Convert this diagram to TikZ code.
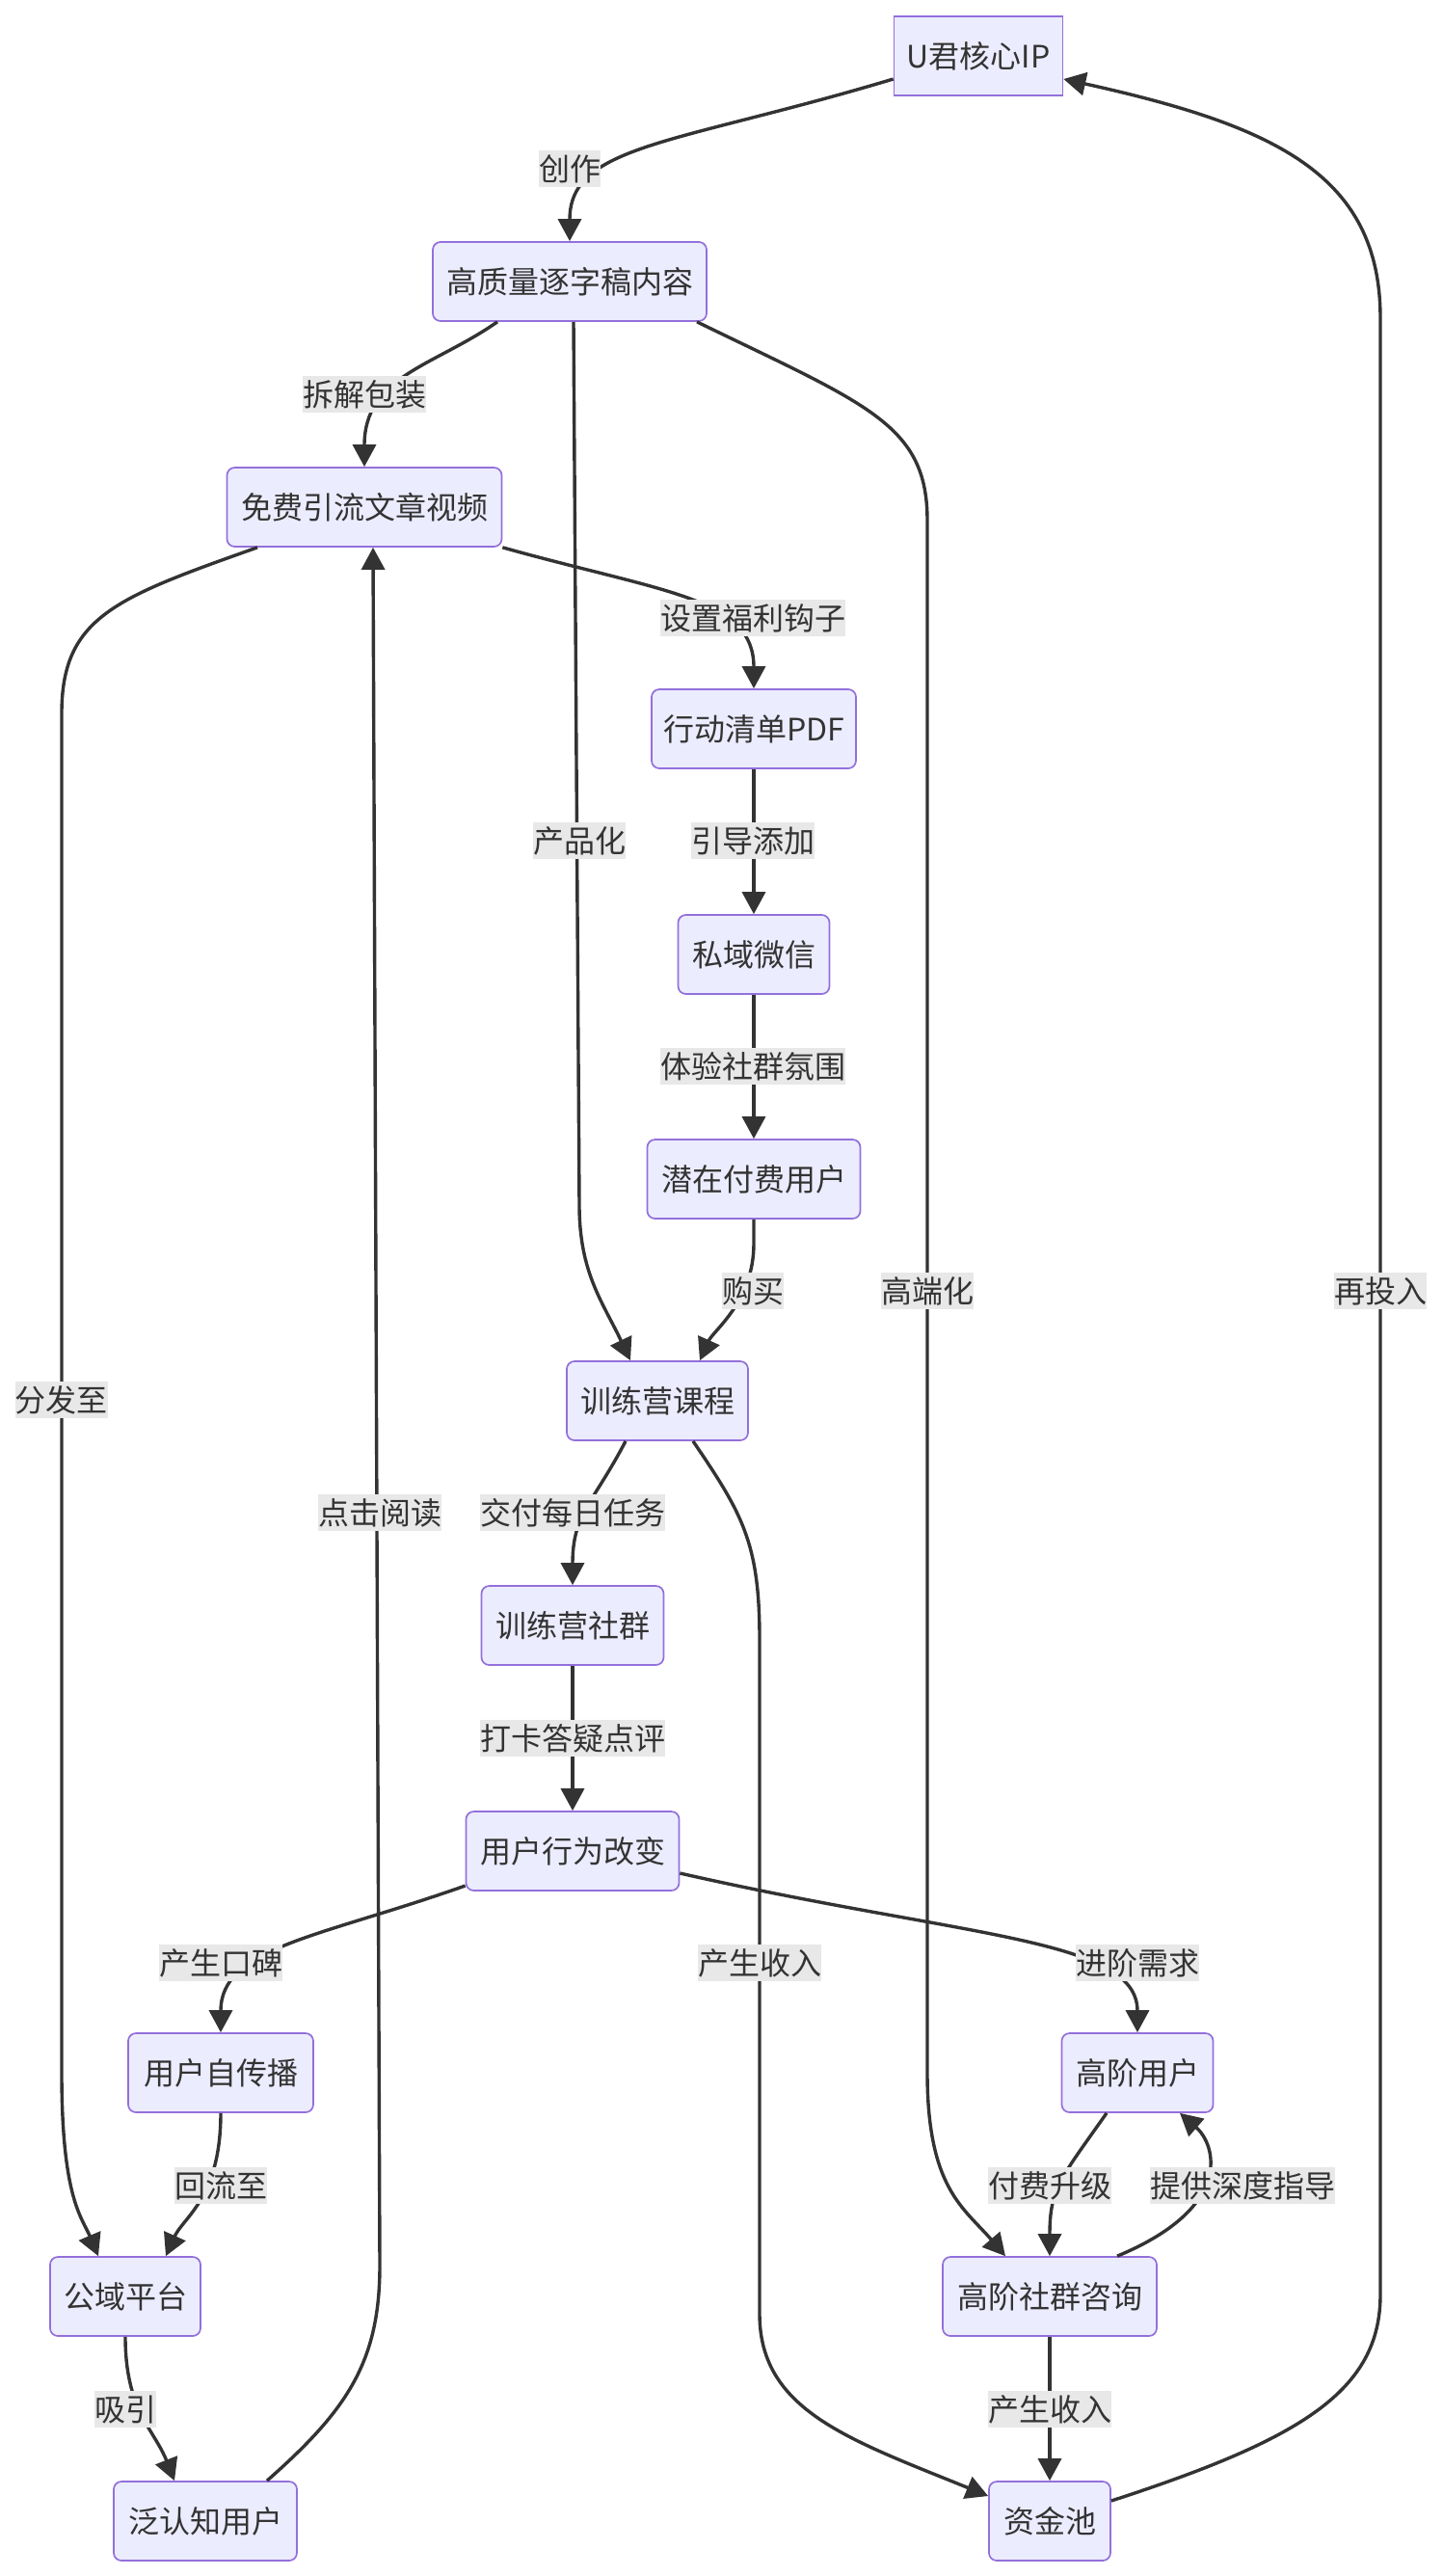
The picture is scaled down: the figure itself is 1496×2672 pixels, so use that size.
\documentclass[tikz,border=0pt]{standalone}
\usepackage{fontspec}
\setmainfont{Noto Sans CJK SC}
\usetikzlibrary{arrows.meta,calc}
\definecolor{nodefill}{HTML}{ECECFF}
\definecolor{nodeline}{HTML}{9370DB}
\definecolor{edgecol}{HTML}{333333}
\definecolor{lblbg}{HTML}{E8E8E8}
\definecolor{txt}{HTML}{333333}
\begin{document}
\begin{tikzpicture}[x=0.5pt,y=-0.5pt,
  box/.style={draw=nodeline,fill=nodefill,line width=0.85pt,rounded corners=4pt,
    minimum height=41pt,inner sep=0pt,text=txt,font=\fontsize{16}{19}\selectfont},
  lbl/.style={fill=lblbg,inner sep=0pt,minimum height=19pt,text=txt,font=\fontsize{16}{19}\selectfont},
  edge/.style={draw=edgecol,line width=1.7pt,-{Triangle[length=11.5pt,width=12pt]}},
  plain/.style={draw=edgecol,line width=1.7pt}]
\useasboundingbox (0,0) rectangle (1496,2672);
% nodes
\node[box,sharp corners,minimum width=87.5pt] (ip) at (1015,58) {U君核心IP};
\node[box,minimum width=142pt] (hq) at (591,292) {高质量逐字稿内容};
\node[box,minimum width=142.5pt] (free) at (378,526) {免费引流文章视频};
\node[box,minimum width=106pt] (pdf) at (782,756) {行动清单PDF};
\node[box,minimum width=78.5pt] (wx) at (782,990) {私域微信};
\node[box,minimum width=110.5pt] (pot) at (782,1223) {潜在付费用户};
\node[box,minimum width=94pt] (camp) at (682,1453) {训练营课程};
\node[box,minimum width=94.5pt] (grp) at (594,1686) {训练营社群};
\node[box,minimum width=110.5pt] (beh) at (594,1920) {用户行为改变};
\node[box,minimum width=96pt] (self) at (229,2150) {用户自传播};
\node[box,minimum width=78.5pt] (adv) at (1180,2150) {高阶用户};
\node[box,minimum width=78pt] (pub) at (130,2382) {公域平台};
\node[box,minimum width=111pt] (cons) at (1089,2382) {高阶社群咨询};
\node[box,minimum width=95pt] (aware) at (213,2615) {泛认知用户};
\node[box,minimum width=63pt] (pool) at (1089,2615) {资金池};
% edges
\draw[edge] ($(ip.west)+(0,24)$) .. controls (700,150) and (591,150) .. (hq.north);
\draw[edge] ($(hq.south)+(-75,0)$) .. controls (450,380) and (378,390) .. (free.north);
\draw[edge] ($(hq.south)+(4,0)$) -- (601,1250) .. controls (601,1320) and (625,1350) .. ($(camp.north)+(-28,0)$);
\draw[edge] ($(hq.south)+(132,0)$) .. controls (900,420) and (962,440) .. (962,540) -- (962,2150) .. controls (962,2270) and (1000,2290) .. ($(cons.north)+(-46,0)$);
\draw[edge] (free.south east) .. controls (690,615) and (782,620) .. (pdf.north);
\draw[edge] ($(free.south)+(-111,0)$) .. controls (120,620) and (64,640) .. (64,740) -- (64,2150) .. controls (64,2280) and (85,2300) .. ($(pub.north)+(-28,0)$);
\draw[edge] (pdf.south) -- (wx.north);
\draw[edge] (wx.south) -- (pot.north);
\draw[edge] (pot.south) -- (782,1290) .. controls (782,1350) and (740,1380) .. ($(camp.north)+(44,0)$);
\draw[edge] ($(camp.south)+(-33,0)$) .. controls (615,1560) and (594,1570) .. (grp.north);
\draw[edge] ($(camp.south)+(37,0)$) .. controls (770,1570) and (788,1600) .. (788,1700) -- (788,2400) .. controls (788,2500) and (880,2530) .. ($(pool.west)+(0,-26)$);
\draw[edge] (grp.south) -- (beh.north);
\draw[edge] ($(beh.west)+(0,36)$) .. controls (330,2010) and (229,2020) .. (self.north);
\draw[edge] ($(beh.east)+(0,23)$) .. controls (1000,2010) and (1180,2010) .. (adv.north);
\draw[edge] (self.south) .. controls (229,2280) and (190,2300) .. ($(pub.north)+(42,0)$);
\draw[edge] ($(adv.south)+(-32,0)$) .. controls (1100,2260) and (1089,2270) .. (cons.north);
\draw[edge] ($(cons.north)+(70,0)$) .. controls (1280,2290) and (1262,2225) .. ($(adv.south)+(44,0)$);
\draw[edge] (cons.south) -- (pool.north);
\draw[edge] (pub.south) .. controls (130,2500) and (160,2520) .. ($(aware.north)+(-32,0)$);
\draw[edge] ($(aware.north)+(64,0)$) .. controls (360,2500) and (394,2450) .. (394,2350) -- ($(free.south)+(9,0)$);
\draw[edge] ($(pool.east)+(0,-21)$) .. controls (1350,2530) and (1432,2480) .. (1432,2380) -- (1432,330) .. controls (1432,180) and (1320,130) .. ($(ip.east)+(0,24)$);
% labels
\node[lbl] (l1) at (591,175) {创作};
\node[lbl] (l2) at (378,409) {拆解包装};
\node[lbl] (l3) at (781,641) {设置福利钩子};
\node[lbl] (l4) at (601,872) {产品化};
\node[lbl] (l5) at (781,872) {引导添加};
\node[lbl] (l6) at (781,1106) {体验社群氛围};
\node[lbl] (l7) at (781,1339) {购买};
\node[lbl] (l8) at (962,1339) {高端化};
\node[lbl] (l9) at (1432,1339) {再投入};
\node[lbl] (l10) at (64,1452) {分发至};
\node[lbl] (l11) at (394,1569) {点击阅读};
\node[lbl] (l12) at (594,1569) {交付每日任务};
\node[lbl] (l13) at (594,1803) {打卡答疑点评};
\node[lbl] (l14) at (788,2036) {产生收入};
\node[lbl] (l15) at (229,2036) {产生口碑};
\node[lbl] (l16) at (1180,2036) {进阶需求};
\node[lbl] (l17) at (229,2267) {回流至};
\node[lbl] (l18) at (1089,2267) {付费升级};
\node[lbl] (l19) at (1289,2267) {提供深度指导};
\node[lbl] (l20) at (130,2499) {吸引};
\node[lbl] (l21) at (1089,2499) {产生收入};
\end{tikzpicture}
\end{document}
